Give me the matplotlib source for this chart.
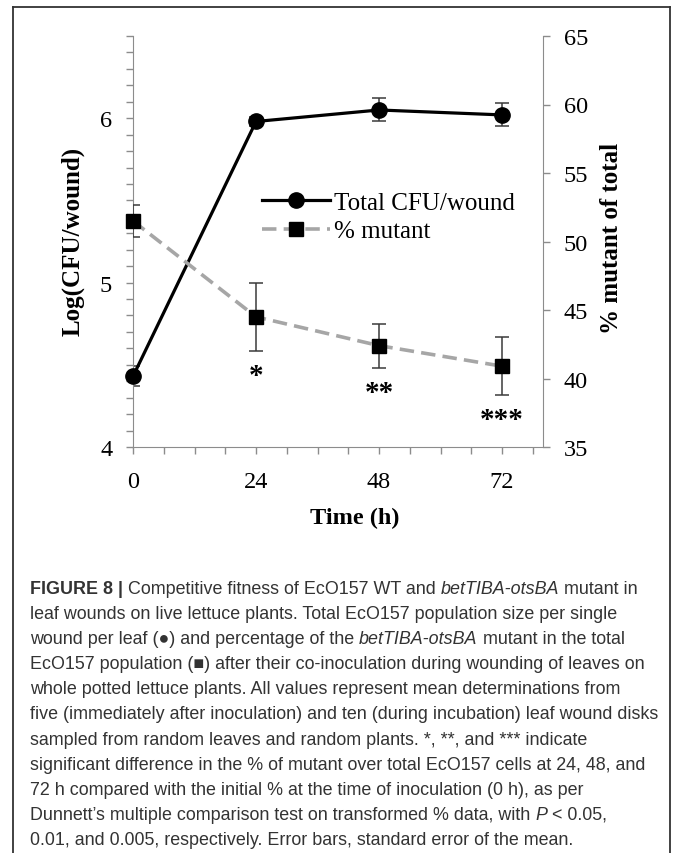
import matplotlib
matplotlib.use("Agg")
import matplotlib.pyplot as plt
from matplotlib.lines import Line2D
from matplotlib.ticker import MultipleLocator
from matplotlib import font_manager

# data
time_h = [0, 24, 48, 72]
log_cfu = [4.43, 5.98, 6.05, 6.02]
log_cfu_err = [0.06, 0.03, 0.07, 0.07]
pct_mutant = [51.5, 44.5, 42.4, 40.9]
pct_mutant_err = [1.2, 2.5, 1.6, 2.1]
stars = ["", "*", "**", "***"]

xticks = [0, 24, 48, 72]
left_ticks = [4, 5, 6]
right_ticks = [35, 40, 45, 50, 55, 60, 65]

caption = [
    [("FIGURE 8 | ", "b"), ("Competitive fitness of EcO157 WT and ", "n"), ("betTIBA-otsBA", "i"), (" mutant in", "n")],
    [("leaf wounds on live lettuce plants. Total EcO157 population size per single", "n")],
    [("wound per leaf (\u25cf) and percentage of the ", "n"), ("betTIBA-otsBA", "i"), (" mutant in the total", "n")],
    [("EcO157 population (\u25a0) after their co-inoculation during wounding of leaves on", "n")],
    [("whole potted lettuce plants. All values represent mean determinations from", "n")],
    [("five (immediately after inoculation) and ten (during incubation) leaf wound disks", "n")],
    [("sampled from random leaves and random plants. *, **, and *** indicate", "n")],
    [("significant difference in the % of mutant over total EcO157 cells at 24, 48, and", "n")],
    [("72 h compared with the initial % at the time of inoculation (0 h), as per", "n")],
    [("Dunnett\u2019s multiple comparison test on transformed % data, with ", "n"), ("P", "i"), (" < 0.05,", "n")],
    [("0.01, and 0.005, respectively. Error bars, standard error of the mean.", "n")],
]

W, H = 675, 854
serif = "Liberation Serif"
gray = "#8c8c8c"

fig = plt.figure(figsize=(W / 100, H / 100), dpi=100)
ax = fig.add_axes([133 / W, 1 - 448 / H, 410 / W, 411 / H])
ax2 = ax.twinx()

# total CFU
ax.errorbar(time_h, log_cfu, yerr=log_cfu_err, fmt="none", ecolor="#3a3a3a",
            elinewidth=1.1, capsize=5, capthick=1.1, zorder=2)
ax.plot(time_h, log_cfu, color="black", lw=2.3, marker="o", ms=11, zorder=3, clip_on=False)

# % mutant
ax2.errorbar(time_h, pct_mutant, yerr=pct_mutant_err, fmt="none", ecolor="#3a3a3a",
             elinewidth=1.1, capsize=5, capthick=1.1, zorder=2)
ax2.plot(time_h, pct_mutant, color="#a6a6a6", lw=2.6, ls="--", dashes=(4, 2), zorder=3)
ax2.plot(time_h, pct_mutant, ls="none", marker="s", ms=10.5, color="black", zorder=4, clip_on=False)

for t, p, e, s in zip(time_h, pct_mutant, pct_mutant_err, stars):
    if s:
        ax2.annotate(s, xy=(t, p - e), xytext=(0, -8), textcoords="offset points",
                     ha="center", va="top", fontsize=21, fontweight="bold", family=serif)

ax.set_xlim(0, 80)
ax.set_ylim(4, 6.5)
ax2.set_ylim(35, 65)
ax.set_xticks(xticks)
ax.xaxis.set_minor_locator(MultipleLocator(6))
ax.set_yticks(left_ticks)
ax.yaxis.set_minor_locator(MultipleLocator(0.1))
ax2.set_yticks(right_ticks)

for a in (ax, ax2):
    a.tick_params(which="both", direction="out", length=5, width=1, color=gray,
                  labelsize=17.5, pad=10)
    for lab in a.get_xticklabels() + a.get_yticklabels():
        lab.set_family(serif)
    a.spines["top"].set_visible(False)
    a.set_facecolor("none")
ax.spines["right"].set_visible(False)
ax2.spines["left"].set_visible(False)
ax2.spines["bottom"].set_visible(False)
for sp in ("left", "bottom"):
    ax.spines[sp].set_color(gray)
ax2.spines["right"].set_color(gray)
ax.tick_params(axis="x", pad=12)

fig.text(355 / W, 1 - 518 / H, "Time (h)", ha="center", va="center",
         fontsize=17.5, fontweight="bold", family=serif)
fig.text(73 / W, 1 - 241 / H, "Log(CFU/wound)", ha="center", va="center",
         rotation=90, fontsize=18, fontweight="bold", family=serif)
fig.text(612 / W, 1 - 238 / H, "% mutant of total", ha="center", va="center",
         rotation=90, fontsize=18, fontweight="bold", family=serif)

handles = [
    Line2D([], [], color="black", lw=2.3, marker="o", ms=11),
    Line2D([], [], color="#a6a6a6", lw=2.6, ls="--", dashes=(4, 2), marker="s", ms=10.5,
           mfc="black", mec="black"),
]
ax2.legend(handles, ["Total CFU/wound", "% mutant"], loc="upper left",
           bbox_to_anchor=(262 / W, 1 - 192 / H), bbox_transform=fig.transFigure,
           frameon=False, prop={"family": serif, "size": 18}, handlelength=2.7,
           handletextpad=0.2, labelspacing=0.25, borderpad=0, borderaxespad=0, numpoints=1)

# caption box (open at the bottom)
box = dict(color="#333333", lw=1.3, transform=fig.transFigure)
fig.add_artist(Line2D([13 / W, 13 / W], [0, 1 - 8 / H], **box))
fig.add_artist(Line2D([670 / W, 670 / W], [0, 1 - 8 / H], **box))
fig.add_artist(Line2D([13 / W, 670 / W], [1 - 8 / H, 1 - 8 / H], **box))

names = {f.name for f in font_manager.fontManager.ttflist}
cap_font = "Liberation Sans Narrow" if "Liberation Sans Narrow" in names else "Liberation Sans"
renderer = fig.canvas.get_renderer()


def style_kw(st, size):
    kw = {"family": [cap_font, "DejaVu Sans"], "fontsize": size, "color": "#333333"}
    if st == "b":
        kw["fontweight"] = "bold"
    if st == "i":
        kw["fontstyle"] = "italic"
    return kw


def seg_width(s, st, size):
    t1 = fig.text(0, 0, "|" + s + "|", **style_kw(st, size))
    t2 = fig.text(0, 0, "||", **style_kw(st, size))
    w = t1.get_window_extent(renderer).width - t2.get_window_extent(renderer).width
    t1.remove()
    t2.remove()
    return w


# fit the widest caption line to the box width
w12 = seg_width(caption[5][0][0], "n", 12)
cap_size = 12 * 628 / w12

y0, dy = 594, 25.1
for i, line in enumerate(caption):
    x = 30
    for s, st in line:
        fig.text(x / W, 1 - (y0 + i * dy) / H, s, ha="left", va="baseline",
                 **style_kw(st, cap_size))
        x += seg_width(s, st, cap_size)

fig.savefig("out.png", dpi=100)
